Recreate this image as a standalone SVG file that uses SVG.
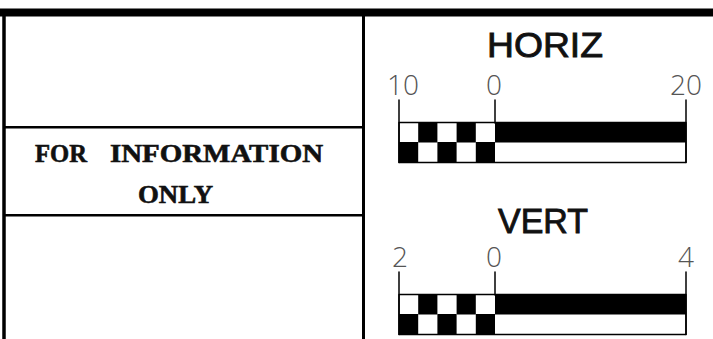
<svg xmlns="http://www.w3.org/2000/svg" xmlns:xlink="http://www.w3.org/1999/xlink" width="713" height="339" viewBox="0 0 713 339">
<style>
.frame{stroke:#000;fill:none}
.serif{font-family:"Liberation Serif","Times New Roman",serif;font-weight:bold;font-size:26px;fill:#111;stroke:#111;stroke-width:0.6}
.title{font-family:"Liberation Sans",Arial,sans-serif;font-size:35px;fill:#111;stroke:#111;stroke-width:0.9}
.num{font-family:"Open Sans","DejaVu Sans",sans-serif;font-weight:300;font-size:28px;fill:#555;text-anchor:middle}
.tick{stroke:#000;stroke-width:1.5;fill:none;stroke-linecap:round}
</style>
<defs>
<g id="bar">
<line class="tick" x1="399" y1="100" x2="399" y2="162.5"/>
<line class="tick" x1="495" y1="100" x2="495" y2="123"/>
<line class="tick" x1="686" y1="100" x2="686" y2="162.5"/>
<rect x="495" y="122.5" width="191" height="20" fill="#000"/>
<rect x="418.2" y="122.5" width="19.2" height="20" fill="#000"/>
<rect x="456.6" y="122.5" width="19.2" height="20" fill="#000"/>
<rect x="399" y="142" width="19.2" height="20.5" fill="#000"/>
<rect x="437.4" y="142" width="19.2" height="20.5" fill="#000"/>
<rect x="475.8" y="142" width="19.2" height="20.5" fill="#000"/>
<rect x="399" y="122.5" width="287" height="40" fill="none" stroke="#000" stroke-width="1.5" stroke-linejoin="round"/>
</g>
</defs>
<g id="frame">
<rect x="0" y="8.5" width="713" height="8" fill="#000"/>
<line class="frame" x1="4" y1="16" x2="4" y2="339" stroke-width="3.5"/>
<line class="frame" x1="363.5" y1="16" x2="363.5" y2="339" stroke-width="3"/>
<line class="frame" x1="5" y1="127.3" x2="363" y2="127.3" stroke-width="2.5"/>
<line class="frame" x1="5" y1="215.3" x2="363" y2="215.3" stroke-width="2.5"/>
</g>
<g id="info">
<text class="serif" x="35" y="162" textLength="52" lengthAdjust="spacingAndGlyphs">FOR</text>
<text class="serif" x="110" y="162" textLength="213" lengthAdjust="spacingAndGlyphs">INFORMATION</text>
<text class="serif" x="138" y="203" textLength="75" lengthAdjust="spacingAndGlyphs">ONLY</text>
</g>
<g id="horiz">
<text class="title" x="487" y="57" textLength="116" lengthAdjust="spacingAndGlyphs">HORIZ</text>
<text class="num" x="403" y="95">10</text>
<text class="num" x="494" y="95">0</text>
<text class="num" x="686" y="95">20</text>
<use xlink:href="#bar"/>
</g>
<g id="vert">
<text class="title" x="498" y="233" textLength="90" lengthAdjust="spacingAndGlyphs">VERT</text>
<text class="num" x="400" y="267">2</text>
<text class="num" x="494" y="267">0</text>
<text class="num" x="686" y="267">4</text>
<use xlink:href="#bar" transform="translate(0,172)"/>
</g>
<g id="connectors"></g>
</svg>
